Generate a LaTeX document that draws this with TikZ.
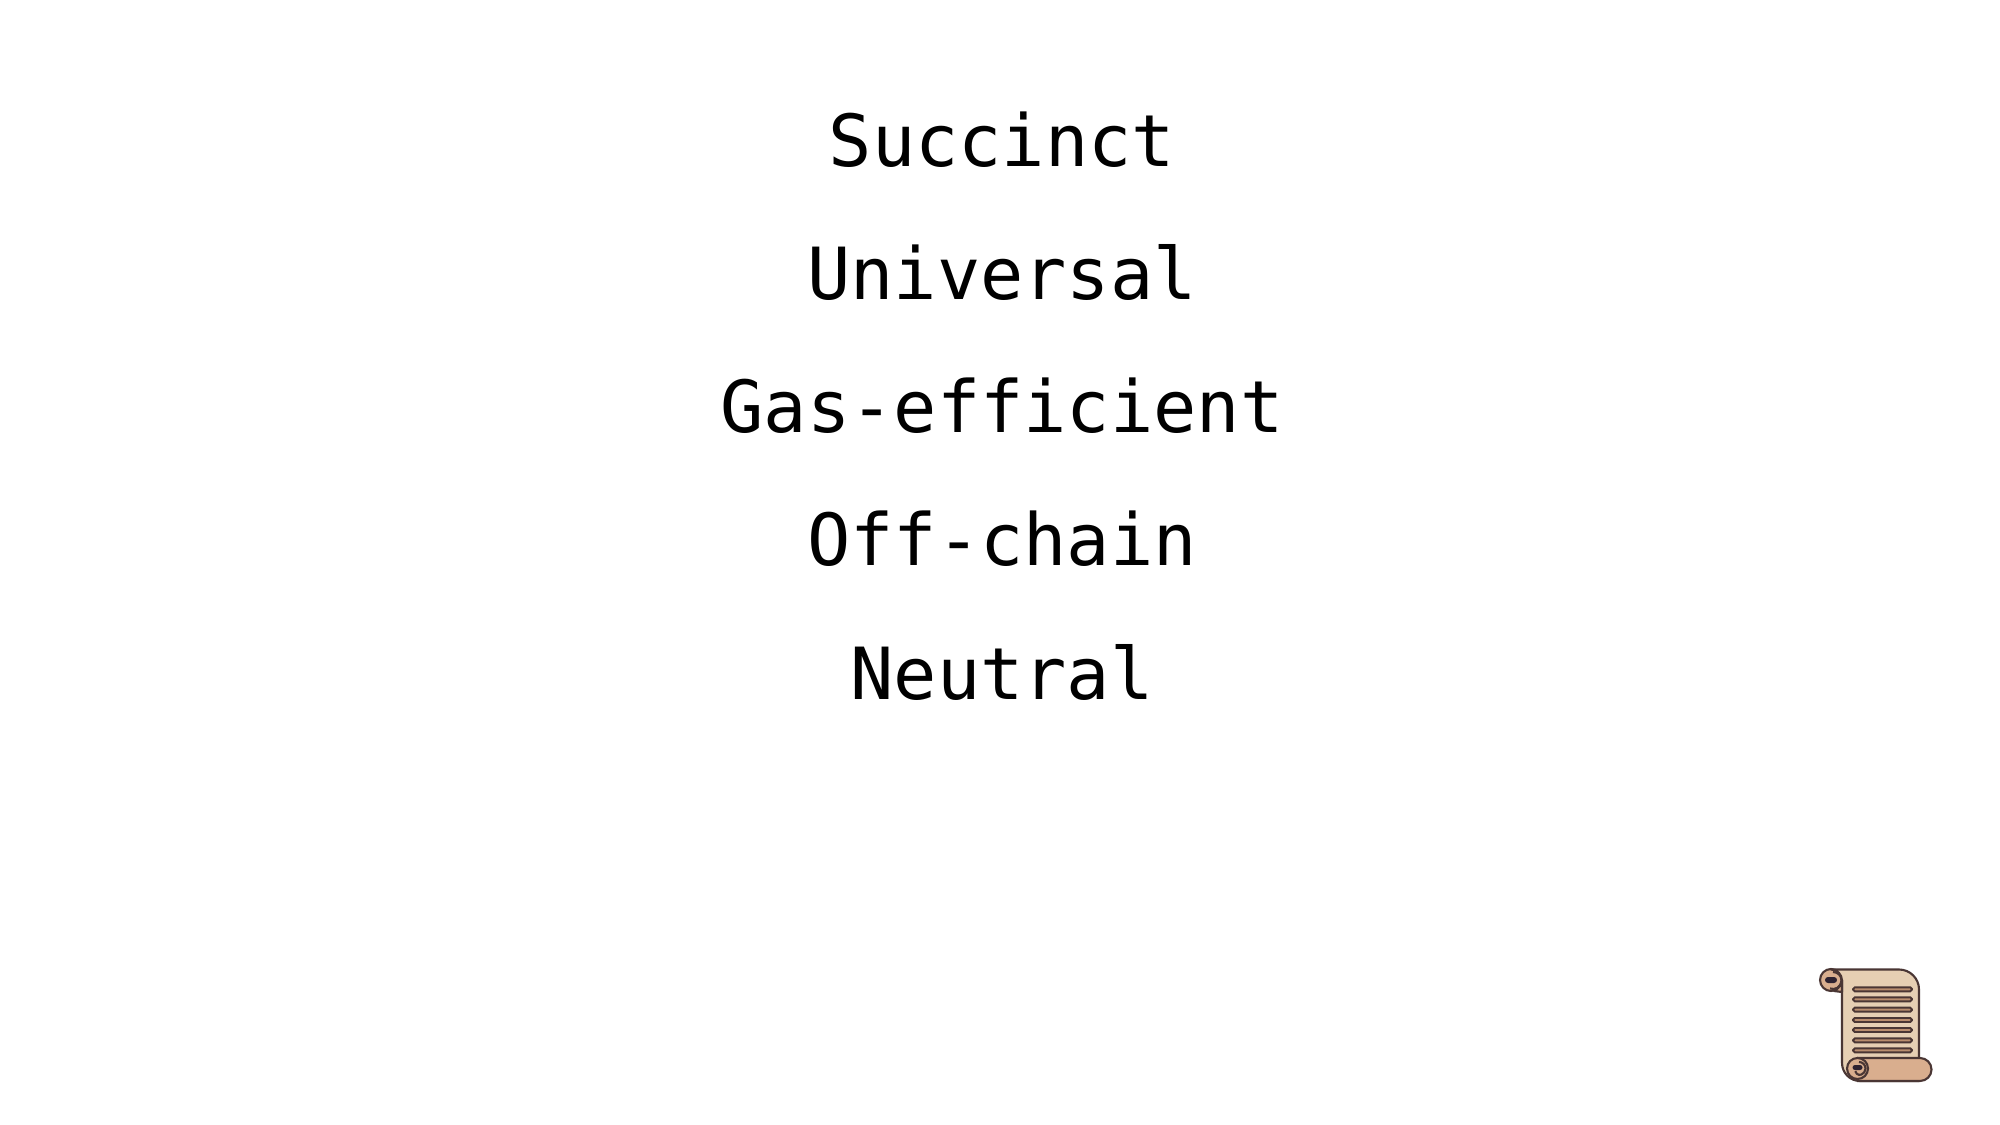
\documentclass[tikz,border=0pt]{standalone}
\usepackage{fontspec}
\setmonofont{DejaVu Sans Mono}
\definecolor{sheet}{HTML}{E6CFB3}
\definecolor{roll}{HTML}{D9AE8E}
\definecolor{ink}{HTML}{4A3634}
\definecolor{blob}{HTML}{2E2230}
\definecolor{rule}{HTML}{B98D6E}
\tikzset{
  word/.style={anchor=base, inner sep=0pt, font=\ttfamily\fontsize{20.45pt}{24pt}\selectfont},
  edge/.style={draw=ink, line width=0.6pt, line join=round},
  textline/.style={draw=ink, line width=0.55pt, fill=rule, rounded corners=0.018cm}
}
\begin{document}
\begin{tikzpicture}[x=0.01cm,y=-0.01cm]
\useasboundingbox (0,0) rectangle (2000,1125);

\node[word] (succinct) at (1002,167) {Succinct};
\node[word] (universal) at (1002,300) {Universal};
\node[word] (gas) at (1002,433) {Gas-efficient};
\node[word] (offchain) at (1002,566) {Off-chain};
\node[word] (neutral) at (1002,699) {Neutral};

% top curl
\path[edge,fill=roll] (1831,980) circle (11);

% sheet
\path[edge,fill=sheet] (1831,969.5) -- (1899,969.5) arc (-90:0:20) -- (1919,1081)
  -- (1860,1081) arc (90:180:18) -- (1842,980.5) arc (0:-90:11) -- cycle;
\path[edge,fill=roll] (1842,980) -- (1842,992) -- (1834,991) .. controls (1840,988) and (1841,984) .. cycle;

% lines of text
\path[textline] (1853,987.3) rectangle (1912,991.3);
\path[textline] (1853,997.3) rectangle (1912,1001.3);
\path[textline] (1853,1007.7) rectangle (1912,1011.7);
\path[textline] (1853,1018) rectangle (1912,1022);
\path[textline] (1853,1028) rectangle (1912,1032);
\path[textline] (1853,1038.3) rectangle (1912,1042.3);
\path[textline] (1853,1048.3) rectangle (1912,1052.3);

% bottom roll
\path[edge,fill=roll] (1857,1058) -- (1920,1058) arc (-90:90:11.5) -- (1857,1081);
\path[edge,fill=roll] (1857.5,1068.5) circle (10.5);

% curls
\path[edge] (1833,972) arc (-90:110:8.5);
\path[edge] (1859,1062) arc (-90:70:6.5) arc (70:170:4.5);
\path[fill=blob] (1828,977) -- (1834,977) arc (-90:90:3) -- (1828,983) arc (90:270:3);
\path[fill=blob] (1855,1065) -- (1860,1065) arc (-90:90:2.5) -- (1855,1070) arc (90:270:2.5);
\end{tikzpicture}
\end{document}
